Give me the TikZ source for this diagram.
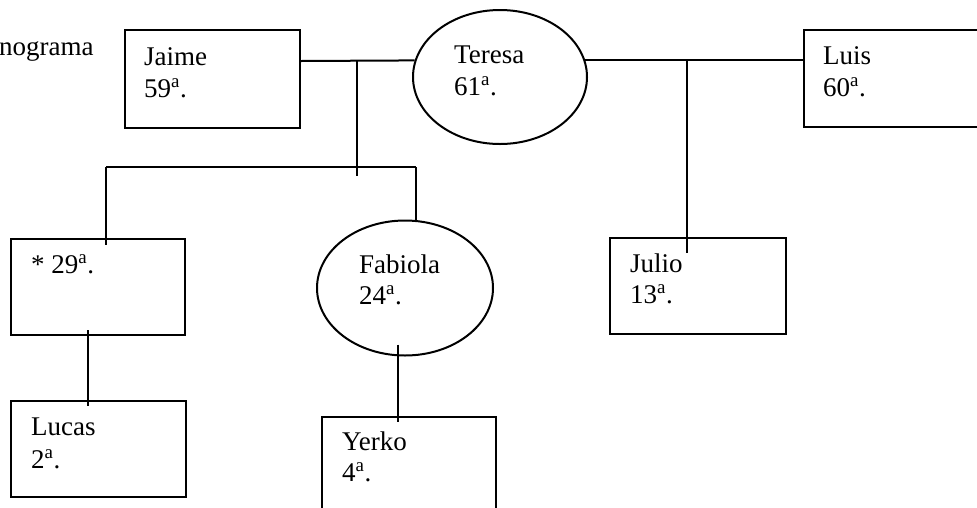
\documentclass[tikz,border=0pt]{standalone}
\usepackage{fontspec}
\setmainfont{Liberation Serif}
\usetikzlibrary{shapes.geometric}
\begin{document}
\begin{tikzpicture}[x=1pt,y=-1pt,
  person/.style={draw, line width=2pt, rectangle, inner sep=0pt, anchor=north west},
  woman/.style={draw, line width=2pt, ellipse, inner sep=0pt},
  txt/.style={anchor=base west, inner sep=0pt, font=\fontsize{27}{32}\selectfont},
  link/.style={line width=2pt}]
\useasboundingbox (0,0) rectangle (977,507);
\fill[white] (0,0) rectangle (977,507);
% people
\node[person, minimum width=175pt, minimum height=98pt] (jaime) at (124,29) {};
\node[person, minimum width=180pt, minimum height=97pt] (luis) at (803,29) {};
\node[person, minimum width=174pt, minimum height=96pt] (c29) at (10,238) {};
\node[person, minimum width=175pt, minimum height=96pt] (lucas) at (10,400) {};
\node[person, minimum width=176pt, minimum height=96pt] (julio) at (609,237) {};
\node[person, minimum width=174pt, minimum height=110pt] (yerko) at (321,416) {};
\node[woman, minimum width=174pt, minimum height=134pt] (teresa) at (500,77) {};
\node[woman, minimum width=176pt, minimum height=135pt] (fabiola) at (405,288) {};
% texts
\node[txt] (title) at (-1,55) {nograma};
\node[txt] (tj1) at (144,65) {Jaime};
\node[txt] (tj2) at (144,97) {59\textsuperscript{a}.};
\node[txt] (tt1) at (454,63) {Teresa};
\node[txt] (tt2) at (454,95) {61\textsuperscript{a}.};
\node[txt] (tl1) at (823,64) {Luis};
\node[txt] (tl2) at (823,96) {60\textsuperscript{a}.};
\node[txt] (tc1) at (31,273) {* 29\textsuperscript{a}.};
\node[txt] (tf1) at (359,273) {Fabiola};
\node[txt] (tf2) at (359,304) {24\textsuperscript{a}.};
\node[txt] (tu1) at (630,272) {Julio};
\node[txt] (tu2) at (630,303) {13\textsuperscript{a}.};
\node[txt] (tlu1) at (31,435) {Lucas};
\node[txt] (tlu2) at (31,468) {2\textsuperscript{a}.};
\node[txt] (ty1) at (342,450) {Yerko};
\node[txt] (ty2) at (342,481) {4\textsuperscript{a}.};
% junctions
\coordinate (famA) at (357,61);
\coordinate (famA2) at (357,176);
\coordinate (sibL) at (106,167);
\coordinate (sibR) at (416,167);
\coordinate (famB) at (687,61);
\coordinate (lx) at (88,0);
\coordinate (yx) at (398,0);
% connectors
\draw[link] (jaime.east |- famA) -- (teresa.169);
\draw[link] (famA) -- (famA2);
\draw[link] (sibL) -- (sibR);
\draw[link, shorten >=-7pt] (sibL) -- (c29.north -| sibL);
\draw[link] (sibR) -- (sibR |- fabiola.north);
\draw[link] (teresa.11) -- (luis.west |- teresa.11);
\draw[link, shorten >=-16pt] (famB) -- (famB |- julio.north);
\draw[link, shorten <=-6pt, shorten >=-6pt] (c29.south -| lx) -- (lucas.north -| lx);
\draw[link, shorten <=-12pt, shorten >=-6pt] (fabiola.south -| yx) -- (yerko.north -| yx);
\end{tikzpicture}
\end{document}
